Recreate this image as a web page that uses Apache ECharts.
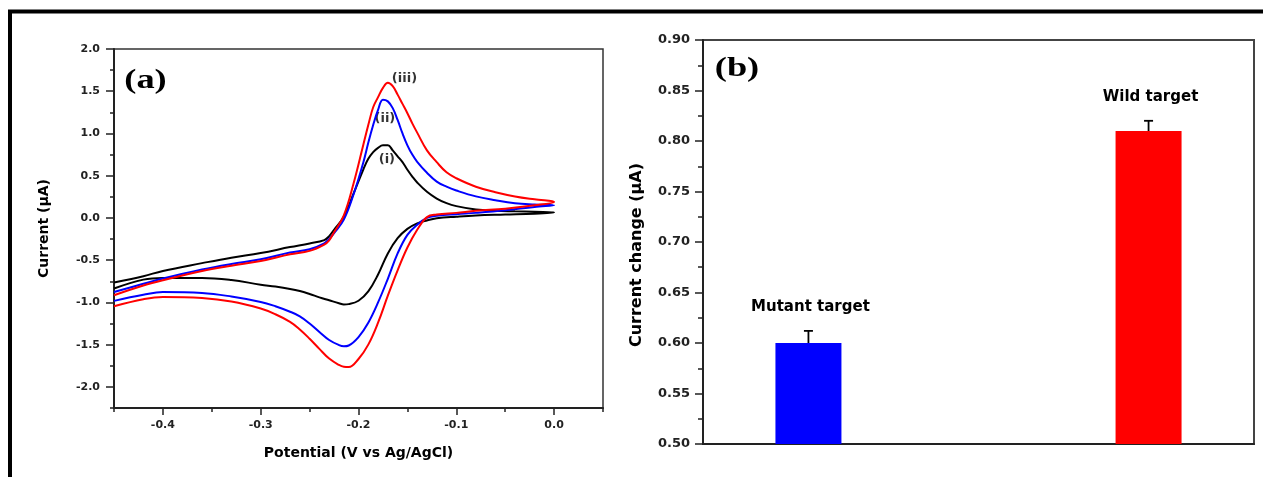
<!DOCTYPE html>
<html>
<head>
<meta charset="utf-8">
<script src="https://cdn.jsdelivr.net/npm/echarts@6/dist/echarts.min.js"></script>
<style>
  html, body { margin: 0; padding: 0; background: #fff; }
  #chart { width: 1263px; height: 477px; }
</style>
</head>
<body>
<div id="chart"></div>
<script>
// ---------- Panel (a): cyclic voltammograms ----------
const fwdPotential = [-0.45, -0.42, -0.40, -0.36, -0.33, -0.30, -0.27, -0.25, -0.235, -0.23, -0.225, -0.215, -0.205, -0.195, -0.19, -0.185, -0.18, -0.175, -0.17, -0.165, -0.16, -0.155, -0.15, -0.145, -0.14, -0.13, -0.12, -0.11, -0.10, -0.08, -0.06, -0.04, -0.02, 0.0];
const revPotential = [0.0, -0.02, -0.05, -0.08, -0.10, -0.12, -0.13, -0.14, -0.15, -0.16, -0.17, -0.18, -0.19, -0.20, -0.21, -0.215, -0.22, -0.23, -0.24, -0.25, -0.26, -0.27, -0.285, -0.30, -0.33, -0.36, -0.40, -0.42, -0.45];

const curveIFwd = [-0.764, -0.69, -0.627, -0.535, -0.47, -0.415, -0.345, -0.302, -0.262, -0.215, -0.14, 0.013, 0.29, 0.576, 0.70, 0.78, 0.83, 0.86, 0.86, 0.80, 0.73, 0.66, 0.57, 0.49, 0.42, 0.31, 0.23, 0.175, 0.14, 0.10, 0.085, 0.078, 0.072, 0.065];
const curveIRev = [0.065, 0.05, 0.04, 0.03, 0.015, -0.005, -0.03, -0.065, -0.13, -0.24, -0.42, -0.67, -0.87, -0.98, -1.02, -1.025, -1.01, -0.975, -0.94, -0.90, -0.865, -0.84, -0.812, -0.79, -0.735, -0.71, -0.71, -0.73, -0.835];

const curveIIFwd = [-0.876, -0.78, -0.717, -0.61, -0.545, -0.49, -0.41, -0.37, -0.30, -0.25, -0.18, -0.02, 0.28, 0.66, 0.89, 1.10, 1.28, 1.40, 1.38, 1.30, 1.16, 1.00, 0.86, 0.75, 0.665, 0.535, 0.43, 0.37, 0.325, 0.255, 0.21, 0.175, 0.16, 0.15];
const curveIIRev = [0.15, 0.13, 0.09, 0.06, 0.045, 0.025, 0.0, -0.08, -0.20, -0.42, -0.72, -1.00, -1.24, -1.41, -1.51, -1.52, -1.505, -1.445, -1.35, -1.25, -1.165, -1.11, -1.045, -0.994, -0.93, -0.888, -0.877, -0.91, -0.982];

const curveIIIFwd = [-0.915, -0.80, -0.737, -0.627, -0.565, -0.51, -0.43, -0.39, -0.315, -0.265, -0.17, 0.03, 0.41, 0.87, 1.10, 1.31, 1.43, 1.54, 1.60, 1.56, 1.46, 1.35, 1.24, 1.12, 1.01, 0.80, 0.66, 0.54, 0.47, 0.37, 0.305, 0.255, 0.22, 0.19];
const curveIIIRev = [0.19, 0.15, 0.11, 0.085, 0.06, 0.04, 0.01, -0.14, -0.35, -0.62, -0.92, -1.24, -1.50, -1.67, -1.765, -1.762, -1.74, -1.665, -1.55, -1.43, -1.32, -1.23, -1.14, -1.073, -0.99, -0.948, -0.935, -0.962, -1.045];

const curveLabels = ['(i)', '(ii)', '(iii)'];
const curveLabelPos = [[-0.171, 0.69], [-0.173, 1.17], [-0.153, 1.645]];

const xMajorTicks = [-0.4, -0.3, -0.2, -0.1, 0.0];
const xMinorTicks = [-0.45, -0.35, -0.25, -0.15, -0.05, 0.05];
const yMajorTicks = [-2.0, -1.5, -1.0, -0.5, 0.0, 0.5, 1.0, 1.5, 2.0];
const yMinorTicks = [-2.25, -1.75, -1.25, -0.75, -0.25, 0.25, 0.75, 1.25, 1.75];

// ---------- Panel (b): current change ----------
const targetNames = ['Mutant target', 'Wild target'];
const targetPositions = [1, 2];
const currentChange = [0.60, 0.81];
const currentError = [0.012, 0.010];
const barColors = ['#0000ff', '#ff0000'];

function loop(fwd, rev) {
  return fwdPotential.map((p, i) => [p, fwd[i]]).concat(revPotential.map((p, i) => [p, rev[i]]));
}

const FONT = '"DejaVu Sans", sans-serif';
const axisColor = '#222';

function tickAxis(grid, min, max, pos, values, len) {
  return {
    gridIndex: grid, type: 'value', min: min, max: max, position: pos, offset: 0,
    axisLine: { show: false, onZero: false },
    axisTick: { show: true, customValues: values, length: len, lineStyle: { color: axisColor, width: 1.5 } },
    axisLabel: { show: false }, splitLine: { show: false }, silent: true
  };
}

const chart = echarts.init(document.getElementById('chart'), null, { renderer: 'canvas' });

const option = {
  animation: false,
  backgroundColor: '#fff',
  grid: [
    { left: 114, top: 49, width: 489, height: 359, show: true, borderColor: '#333', borderWidth: 1.5, backgroundColor: 'transparent' },
    { left: 703, top: 40, width: 551, height: 404, show: true, borderColor: '#444', borderWidth: 2, backgroundColor: 'transparent' }
  ],
  xAxis: [
    {
      gridIndex: 0, type: 'value', min: -0.45, max: 0.05, position: 'bottom',
      axisLine: { show: true, onZero: false, lineStyle: { color: axisColor, width: 2 } },
      axisTick: { show: false },
      axisLabel: { customValues: xMajorTicks, formatter: v => v.toFixed(1), margin: 12, fontSize: 11, fontWeight: 'bold', fontFamily: FONT, color: axisColor },
      splitLine: { show: false },
      name: 'Potential (V vs Ag/AgCl)', nameLocation: 'middle', nameGap: 38,
      nameTextStyle: { fontSize: 14, fontWeight: 'bold', fontFamily: FONT, color: '#000' }
    },
    tickAxis(0, -0.45, 0.05, 'bottom', xMajorTicks, 7),
    tickAxis(0, -0.45, 0.05, 'bottom', xMinorTicks, 4),
    {
      gridIndex: 1, type: 'value', min: 0.69, max: 2.31, position: 'bottom',
      axisLine: { show: true, onZero: false, lineStyle: { color: axisColor, width: 2 } },
      axisTick: { show: false }, axisLabel: { show: false }, splitLine: { show: false }
    }
  ],
  yAxis: [
    {
      gridIndex: 0, type: 'value', min: -2.25, max: 2.0, position: 'left',
      axisLine: { show: true, onZero: false, lineStyle: { color: axisColor, width: 2 } },
      axisTick: { show: false },
      axisLabel: { customValues: yMajorTicks, formatter: v => v.toFixed(1), margin: 14, fontSize: 11, fontWeight: 'bold', fontFamily: FONT, color: axisColor },
      splitLine: { show: false },
      name: 'Current (µA)', nameLocation: 'middle', nameGap: 63,
      nameTextStyle: { fontSize: 14, fontWeight: 'bold', fontFamily: FONT, color: '#000' }
    },
    tickAxis(0, -2.25, 2.0, 'left', yMajorTicks, 8),
    tickAxis(0, -2.25, 2.0, 'left', yMinorTicks, 4),
    {
      gridIndex: 1, type: 'value', min: 0.5, max: 0.9, interval: 0.05, position: 'left',
      axisLine: { show: true, onZero: false, lineStyle: { color: axisColor, width: 2 } },
      axisTick: { show: true, length: 8, lineStyle: { color: axisColor, width: 1.5 } },
      minorTick: { show: true, splitNumber: 2, length: 5, lineStyle: { color: axisColor, width: 1.5 } },
      axisLabel: { formatter: v => v.toFixed(2), margin: 13, fontSize: 13, fontWeight: 'bold', fontFamily: FONT, color: axisColor },
      splitLine: { show: false },
      name: 'Current change (µA)', nameLocation: 'middle', nameGap: 58,
      nameTextStyle: { fontSize: 16, fontWeight: 'bold', fontFamily: FONT, color: '#000', padding: [0, 26, 0, 0] }
    }
  ],
  series: [
    { type: 'line', name: '(i)', xAxisIndex: 0, yAxisIndex: 0, data: loop(curveIFwd, curveIRev), smooth: 0.4, showSymbol: false, symbol: 'none', lineStyle: { color: '#000', width: 2 } },
    { type: 'line', name: '(ii)', xAxisIndex: 0, yAxisIndex: 0, data: loop(curveIIFwd, curveIIRev), smooth: 0.4, showSymbol: false, symbol: 'none', lineStyle: { color: '#0000ff', width: 2 } },
    { type: 'line', name: '(iii)', xAxisIndex: 0, yAxisIndex: 0, data: loop(curveIIIFwd, curveIIIRev), smooth: 0.4, showSymbol: false, symbol: 'none', lineStyle: { color: '#ff0000', width: 2 } },
    {
      type: 'scatter', xAxisIndex: 0, yAxisIndex: 0, symbolSize: 1, itemStyle: { color: 'rgba(0,0,0,0)' },
      data: curveLabelPos.map((p, i) => [p[0], p[1], curveLabels[i]]),
      label: { show: true, position: 'inside', formatter: p => p.value[2], fontSize: 13, fontWeight: 'bold', fontFamily: FONT, color: '#000' },
      silent: true
    },
    {
      type: 'bar', xAxisIndex: 3, yAxisIndex: 3, barWidth: 66,
      data: targetPositions.map((x, i) => ({ value: [x, currentChange[i]], itemStyle: { color: barColors[i] } }))
    },
    {
      type: 'custom', xAxisIndex: 3, yAxisIndex: 3,
      data: targetPositions.map((x, i) => [x, currentChange[i], currentError[i]]),
      renderItem: function (params, api) {
        const x = api.value(0), v = api.value(1), e = api.value(2);
        const top = api.coord([x, v + e]);
        const bot = api.coord([x, v - e]);
        const hw = 4.5;
        const st = { stroke: '#000', lineWidth: 1.8 };
        return {
          type: 'group',
          children: [
            { type: 'line', shape: { x1: top[0], y1: top[1], x2: bot[0], y2: bot[1] }, style: st },
            { type: 'line', shape: { x1: top[0] - hw, y1: top[1], x2: top[0] + hw, y2: top[1] }, style: st },
            { type: 'line', shape: { x1: bot[0] - hw, y1: bot[1], x2: bot[0] + hw, y2: bot[1] }, style: st },
            { type: 'text', x: top[0] + 2, y: top[1] - 24, style: { text: targetNames[params.dataIndex], fontSize: 15, fontWeight: 'bold', fontFamily: FONT, fill: '#000', align: 'center', verticalAlign: 'middle' } }
          ]
        };
      }
    }
  ],
  graphic: [
    { type: 'polyline', shape: { points: [[10, 490], [10, 11.5], [1280, 11.5]] }, style: { stroke: '#000', lineWidth: 4, fill: null } },
    { type: 'text', x: 145.5, y: 81, scaleX: 1.3, style: { text: '(a)', fontSize: 28, fontWeight: 'bold', fontFamily: '"Liberation Serif", serif', fill: '#000', align: 'center', verticalAlign: 'middle' } },
    { type: 'text', x: 737, y: 69, scaleX: 1.3, style: { text: '(b)', fontSize: 28, fontWeight: 'bold', fontFamily: '"Liberation Serif", serif', fill: '#000', align: 'center', verticalAlign: 'middle' } }
  ]
};

chart.setOption(option);
</script>
</body>
</html>
